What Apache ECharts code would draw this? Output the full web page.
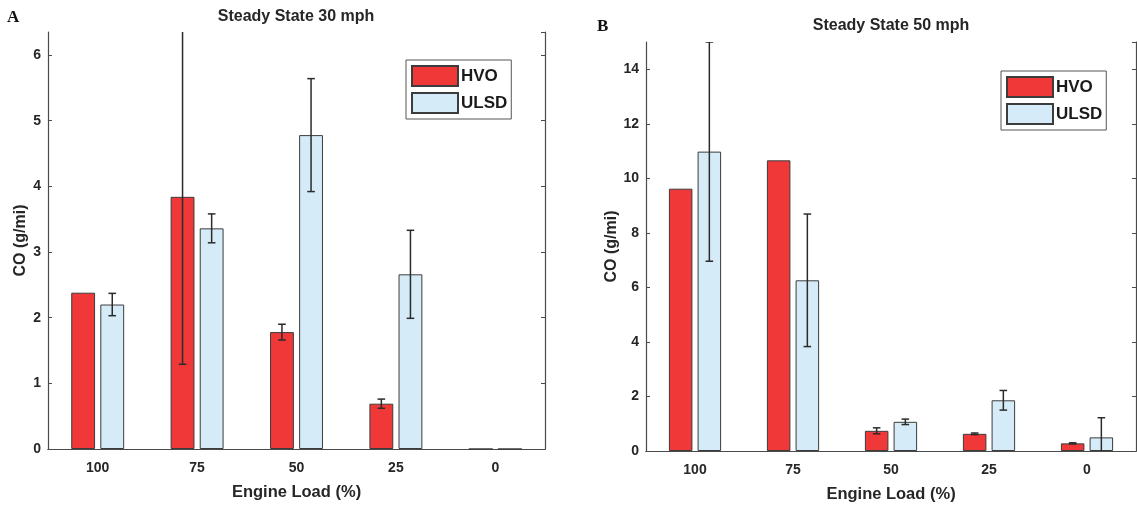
<!DOCTYPE html>
<html>
<head>
<meta charset="utf-8">
<title>CO emissions – steady state</title>
<script src="https://cdn.jsdelivr.net/npm/echarts@6/dist/echarts.min.js"></script>
<style>
  html, body { margin: 0; padding: 0; background: #ffffff; }
  #chart { width: 1137px; height: 508px; }
</style>
</head>
<body>
<div id="chart"></div>
<script>
// Engine load categories (%)
const loads = ['100', '75', '50', '25', '0'];

// Steady state 30 mph – CO (g/mi), mean and ± error
const hvo30 = [2.38, 3.84, 1.78, 0.69, 0];
const hvo30Err = [0, 2.55, 0.12, 0.07, 0];
const ulsd30 = [2.20, 3.36, 4.78, 2.66, 0];
const ulsd30Err = [0.17, 0.22, 0.86, 0.67, 0];

// Steady state 50 mph – CO (g/mi), mean and ± error
const hvo50 = [9.62, 10.66, 0.74, 0.63, 0.28];
const hvo50Err = [0, 0, 0.11, 0.03, 0.02];
const ulsd50 = [10.98, 6.26, 1.07, 1.86, 0.50];
const ulsd50Err = [4.02, 2.43, 0.10, 0.36, 0.72];

const FONT = '"Liberation Sans", Arial, Helvetica, sans-serif';
const TEXT = '#262626';
const FRAME = '#4a4a4a';
const RED = '#f03838';
const BLUE = '#d5ebf8';
const EDGE = '#3c3c3c';
const BAR_W = 0.24;   // bar width as a share of the category band
const BAR_GAP = 0.22; // gap between the two bars, as a share of bar width
const ERR_OFF = BAR_W * (1 + BAR_GAP) / 2;

const chart = echarts.init(document.getElementById('chart'), null, { renderer: 'canvas' });

function xAxes(gridIndex) {
  return [
    {
      type: 'category', gridIndex, data: loads, position: 'bottom',
      name: 'Engine Load (%)', nameLocation: 'middle', nameGap: 35,
      nameTextStyle: { fontFamily: FONT, fontWeight: 'bold', fontSize: 16.5, color: TEXT },
      axisLine: { lineStyle: { color: FRAME, width: 1.2 } },
      axisTick: { inside: true, alignWithLabel: true, length: 4, lineStyle: { color: FRAME } },
      axisLabel: { margin: 12, fontFamily: FONT, fontWeight: 'bold', fontSize: 14, color: TEXT },
      splitLine: { show: false }
    },
    {
      type: 'category', gridIndex, data: loads, position: 'top',
      axisLine: { lineStyle: { color: FRAME, width: 1.2 } },
      axisTick: { inside: true, alignWithLabel: true, length: 4, lineStyle: { color: FRAME } },
      axisLabel: { show: false },
      splitLine: { show: false }
    }
  ];
}

function yAxes(gridIndex, max, interval, nameGap) {
  return [
    {
      type: 'value', gridIndex, min: 0, max, interval, position: 'left',
      name: 'CO (g/mi)', nameLocation: 'middle', nameGap, nameRotate: 90,
      nameTextStyle: { fontFamily: FONT, fontWeight: 'bold', fontSize: 16, color: TEXT },
      axisLine: { show: true, lineStyle: { color: FRAME, width: 1.2 } },
      axisTick: { show: true, inside: true, length: 4, lineStyle: { color: FRAME } },
      axisLabel: { margin: 7, showMaxLabel: false, fontFamily: FONT, fontWeight: 'bold', fontSize: 14, color: TEXT },
      splitLine: { show: false }
    },
    {
      type: 'value', gridIndex, min: 0, max, interval, position: 'right',
      axisLine: { show: true, lineStyle: { color: FRAME, width: 1.2 } },
      axisTick: { show: true, inside: true, length: 4, lineStyle: { color: FRAME } },
      axisLabel: { show: false },
      splitLine: { show: false }
    }
  ];
}

function barSeries(name, values, color, axisBase) {
  return {
    type: 'bar', name, data: values,
    xAxisIndex: axisBase, yAxisIndex: axisBase,
    barWidth: (BAR_W * 100) + '%', barGap: (BAR_GAP * 100) + '%',
    itemStyle: { color, borderColor: EDGE, borderWidth: 1 },
    emphasis: { disabled: true },
    z: 2
  };
}

// Error bars drawn next to each bar of a pair (side -1 = first bar, +1 = second bar)
function errorSeries(values, errors, side, axisBase) {
  return {
    type: 'custom',
    xAxisIndex: axisBase, yAxisIndex: axisBase,
    clip: true, z: 5, silent: true,
    encode: { x: 0, y: 1 },
    data: values.map((v, i) => [i, v, errors[i]]),
    renderItem(params, api) {
      const i = api.value(0), v = api.value(1), e = api.value(2);
      if (!e) return null;
      const band = api.size([1, 0])[0];
      const x = api.coord([i, v])[0] + side * band * ERR_OFF;
      const yTop = api.coord([i, v + e])[1];
      const yBot = api.coord([i, v - e])[1];
      const cap = 3.8;
      const style = { stroke: '#2b2b2b', lineWidth: 1.5 };
      return {
        type: 'group',
        children: [
          { type: 'line', shape: { x1: x, y1: yTop, x2: x, y2: yBot }, style },
          { type: 'line', shape: { x1: x - cap, y1: yTop, x2: x + cap, y2: yTop }, style },
          { type: 'line', shape: { x1: x - cap, y1: yBot, x2: x + cap, y2: yBot }, style }
        ]
      };
    }
  };
}

function legend(left, top) {
  return {
    left, top, orient: 'vertical',
    data: ['HVO', 'ULSD'],
    icon: 'rect', itemWidth: 46, itemHeight: 20, itemGap: 5,
    padding: [5, 4, 5, 5],
    borderColor: '#555', borderWidth: 1, backgroundColor: '#ffffff',
    selectedMode: false,
    textStyle: { fontFamily: FONT, fontWeight: 'bold', fontSize: 17, color: '#1a1a1a', padding: [0, 0, 0, -2] }
  };
}

const titleStyle = { fontFamily: FONT, fontWeight: 'bold', fontSize: 16, color: TEXT };
const panelStyle = { fontFamily: '"Liberation Serif", "DejaVu Serif", serif', fontWeight: 'bold', fontSize: 17, color: '#111' };

chart.setOption({
  animation: false,
  backgroundColor: '#ffffff',
  title: [
    { text: 'Steady State 30 mph', left: 296, top: 9, textAlign: 'center', padding: 0, textStyle: titleStyle },
    { text: 'Steady State 50 mph', left: 891, top: 18, textAlign: 'center', padding: 0, textStyle: titleStyle },
    { text: 'A', left: 7, top: 9, padding: 0, textStyle: panelStyle },
    { text: 'B', left: 597, top: 18, padding: 0, textStyle: panelStyle }
  ],
  legend: [legend(406, 60), legend(1001, 71)],
  grid: [
    { left: 48, top: 32, width: 497, height: 417 },
    { left: 646, top: 42, width: 490, height: 413 }
  ],
  xAxis: [...xAxes(0), ...xAxes(1)],
  yAxis: [...yAxes(0, 6.35, 1, 19), ...yAxes(1, 15, 2, 26)],
  series: [
    barSeries('HVO', hvo30, RED, 0),
    barSeries('ULSD', ulsd30, BLUE, 0),
    errorSeries(hvo30, hvo30Err, -1, 0),
    errorSeries(ulsd30, ulsd30Err, 1, 0),
    barSeries('HVO', hvo50, RED, 2),
    barSeries('ULSD', ulsd50, BLUE, 2),
    errorSeries(hvo50, hvo50Err, -1, 2),
    errorSeries(ulsd50, ulsd50Err, 1, 2)
  ]
});
</script>
</body>
</html>
